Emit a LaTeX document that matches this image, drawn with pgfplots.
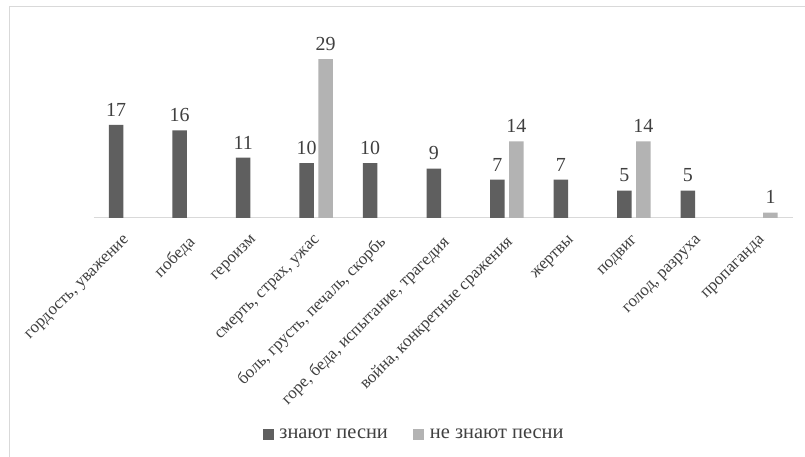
\documentclass[border=0pt]{standalone}
\usepackage{pgfplots}
\pgfplotsset{compat=1.18}
\usepackage{fontspec}
\setmainfont{Liberation Serif}
\definecolor{darkbar}{HTML}{5F5F5F}
\definecolor{lightbar}{HTML}{B3B3B3}
\definecolor{txt}{HTML}{404040}
\definecolor{frame}{HTML}{D9D9D9}
\begin{document}
\begin{tikzpicture}[x=1bp,y=1bp]
\useasboundingbox (0,0) rectangle (805,457);
\fill[white] (0,0) rectangle (805,457);
\draw[frame,line width=1bp] (9,450) -- (805,450);
\draw[frame,line width=1bp] (9,450) -- (9,0);
\begin{axis}[
  at={(93.75bp,239bp)}, anchor=south west,
  scale only axis, width=699bp, height=191.8bp,
  xmin=-0.5, xmax=10.5, ymin=0, ymax=35,
  axis y line=none,
  axis x line*=bottom,
  x axis line style={frame, line width=1bp, -},
  xtick={0,...,10},
  major tick length=0pt,
  xticklabels={{гордость, уважение}, {победа}, {героизм}, {смерть, страх, ужас}, {боль, грусть, печаль, скорбь}, {горе, беда, испытание, трагедия}, {война, конкретные сражения}, {жертвы}, {подвиг}, {голод, разруха}, {пропаганда}},
  xticklabel style={xshift=-2bp, yshift=-15bp, rotate=45, anchor=north east, font=\fontsize{17}{19}\selectfont, text=txt, inner sep=1bp},
  ybar, bar width=14.5bp,
  /pgf/number format/assume math mode=true,
  nodes near coords,
  every node near coord/.append style={font=\fontsize{20}{22}\selectfont, text=txt, yshift=5bp},
  legend columns=2,
  legend style={draw=none, fill=none, at={(0.461,-1.131)}, anchor=center,
    font=\fontsize{20.5}{22}\selectfont, text=txt,
    /tikz/every even column/.append style={column sep=20bp},
    nodes={inner xsep=5.5bp},
    inner sep=0pt},
  legend image code/.code={\fill[#1,draw=none] (0bp,-5.5bp) rectangle (11bp,5.5bp);},
]
\addplot[fill=darkbar, draw=none, bar shift=-9.5bp] coordinates {(0,17) (1,16) (2,11) (3,10) (4,10) (5,9) (6,7) (7,7) (8,5) (9,5)};
\addlegendentry{знают песни}
\addplot[fill=lightbar, draw=none, bar shift=9.5bp] coordinates {(3,29) (6,14) (8,14) (10,1)};
\addlegendentry{не знают песни}
\end{axis}
\end{tikzpicture}
\end{document}
